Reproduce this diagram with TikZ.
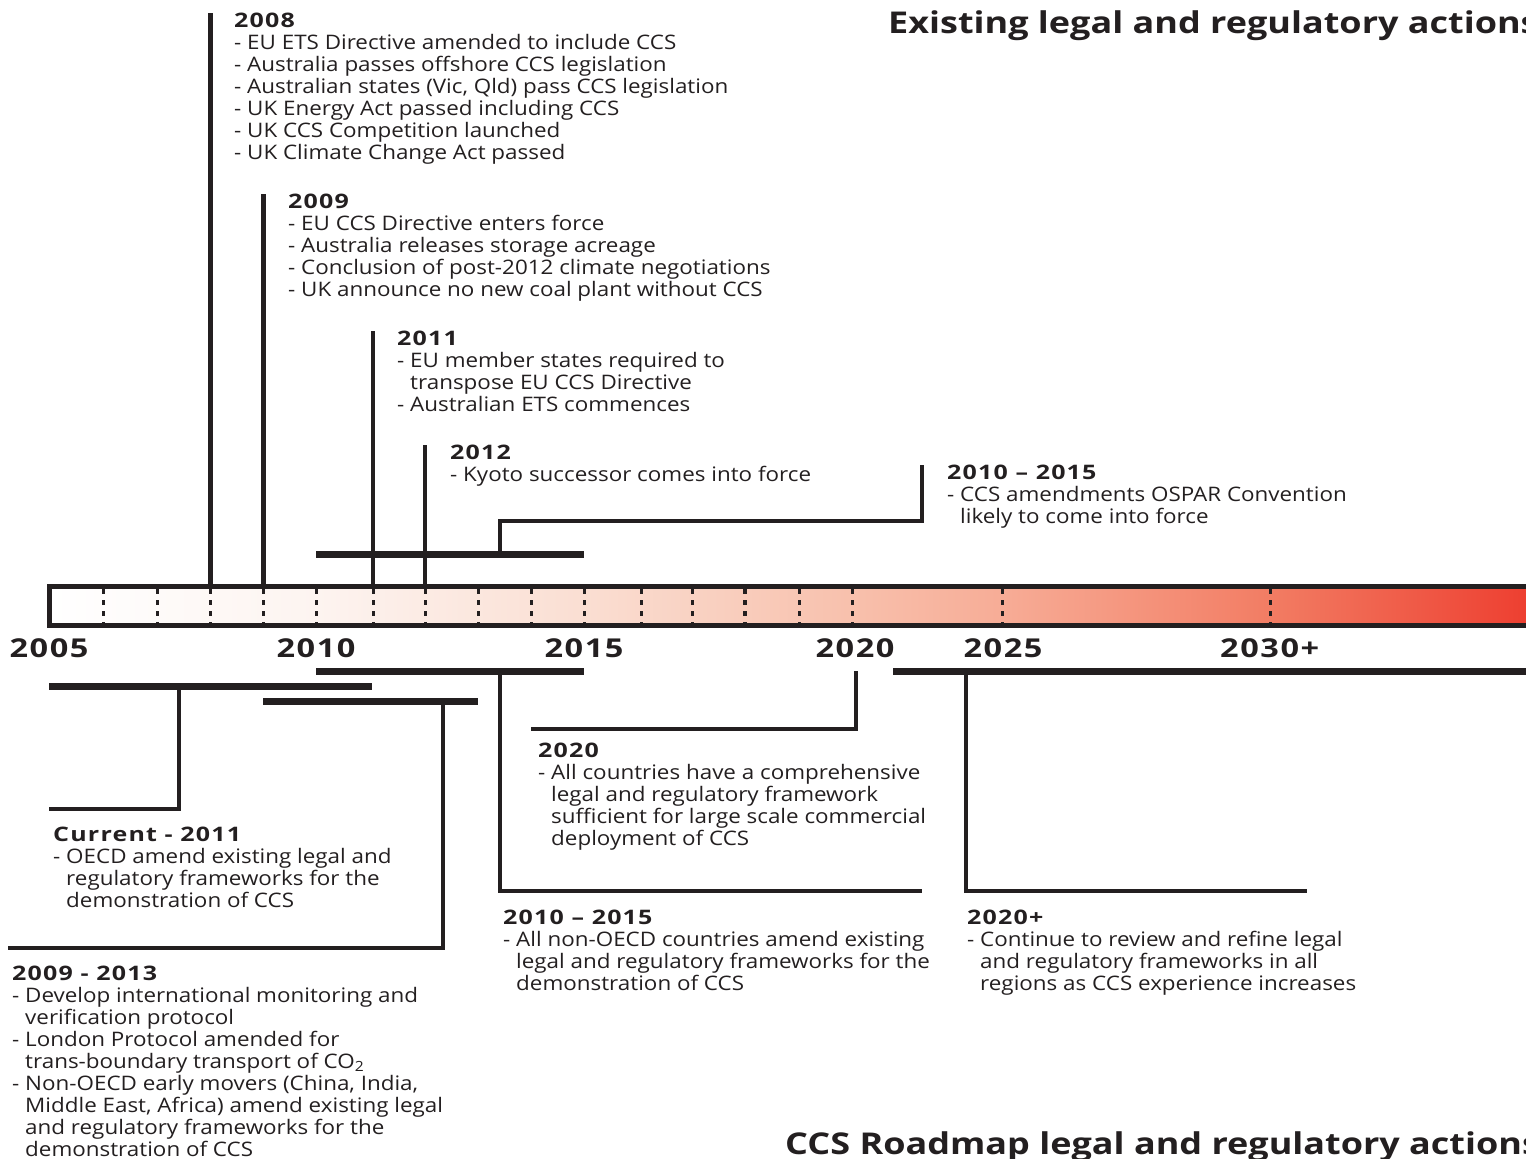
\documentclass[tikz,border=0pt]{standalone}
\usepackage{fontspec}
\setmainfont[FakeStretch=1.12]{Open Sans}
\newfontfamily\headfont[FakeStretch=1.25,LetterSpace=6]{Open Sans}
\newfontfamily\titlefont[FakeStretch=1.2]{Open Sans}
\usepackage{tikz}
\usetikzlibrary{calc,positioning}

\definecolor{ink}{HTML}{231F20}
\definecolor{shadeA}{RGB}{253,244,240}
\definecolor{shadeB}{RGB}{250,222,210}
\definecolor{shadeC}{RGB}{248,192,172}
\definecolor{shadeD}{RGB}{247,172,150}
\definecolor{shadeE}{RGB}{242,124,99}
\definecolor{shadeF}{RGB}{237,60,46}
\pgfdeclarehorizontalshading{barshade}{100bp}{color(0bp)=(white); color(25bp)=(white);
  color(34bp)=(shadeA); color(43bp)=(shadeB); color(52bp)=(shadeC);
  color(57bp)=(shadeD); color(66bp)=(shadeE); color(75bp)=(shadeF); color(100bp)=(shadeF)}

\newcommand{\hang}{\hphantom{- }}

\begin{document}
\begin{tikzpicture}[
      x=1pt, y=-1pt,
      evtext/.style={
          anchor=north west,
          inner sep=0pt,
          align=left,
          text=ink,
          font=\fontsize{20}{22}\selectfont
        },
      yearlab/.style={inner sep=0pt, text=ink, font=\fontsize{26}{28}\headfont\bfseries},
      heading/.style={anchor=west, inner sep=0pt, text=ink, font=\fontsize{30}{32}\titlefont\bfseries},
      evline/.style={draw=ink, line width=5pt},
      link/.style={draw=ink, line width=4pt},
      span/.style={draw=ink, line width=7pt},
      tick/.style={draw=ink, line width=3pt, dash pattern=on 5pt off 6pt}
    ]
    \useasboundingbox (0,0) rectangle (1526,1159);

    % Time bar
    \draw[draw=ink, line width=5pt, shading=barshade] (49,586) rectangle (1540,625);
    \foreach \tx in {103,157,210,263,316,373,425,478,531,584,641,692,799,852,1002,1270}
      \draw[tick] (\tx,589) -- (\tx,624);
    \draw[tick, line width=4pt] (745,589) -- (745,624);

    \node[yearlab] (lab2005) at (49,648)  {2005};
    \node[yearlab] (lab2010) at (316,648) {2010};
    \node[yearlab] (lab2015) at (584,648) {2015};
    \node[yearlab] (lab2020) at (855,648) {2020};
    \node[yearlab] (lab2025) at (1003,648) {2025};
    \node[yearlab, anchor=west] (lab2030) at (1220,648) {2030+};

    \node[heading] (ttop) at (888,26) {Existing legal and regulatory actions};
    \node[heading] (tbot) at (785,1147) {CCS Roadmap legal and regulatory actions};

    % Existing actions, above the bar
    \coordinate (y2008) at (210,586);
    \coordinate (y2009) at (263,586);
    \coordinate (y2011) at (373,586);
    \coordinate (y2012) at (425,586);

    \node[evtext] (n2008) at (234,13) {{\headfont\bfseries 2008}\\
      - EU ETS Directive amended to include CCS\\
      - Australia passes offshore CCS legislation\\
      - Australian states (Vic, Qld) pass CCS legislation\\
      - UK Energy Act passed including CCS\\
      - UK CCS Competition launched\\
      - UK Climate Change Act passed};
    \node[evtext] (n2009) at (288,194) {{\headfont\bfseries 2009}\\
      - EU CCS Directive enters force\\
      - Australia releases storage acreage\\
      - Conclusion of post-2012 climate negotiations\\
      - UK announce no new coal plant without CCS};
    \node[evtext] (n2011) at (397,331) {{\headfont\bfseries 2011}\\
      - EU member states required to\\
      \hang transpose EU CCS Directive\\
      - Australian ETS commences};
    \node[evtext] (n2012) at (450,445) {{\headfont\bfseries 2012}\\
      - Kyoto successor comes into force};
    \node[evtext] (n1015a) at (947,465) {{\headfont\bfseries 2010 – 2015}\\
      - CCS amendments OSPAR Convention\\
      \hang likely to come into force};

    \draw[evline] (y2008) -- (y2008 |- n2008.north);
    \draw[evline] (y2009) -- (y2009 |- n2009.north);
    \draw[evline, line width=4.5pt] (y2011) -- (y2011 |- n2011.north);
    \draw[evline, line width=4.5pt] (y2012) -- (y2012 |- n2012.north);

    \coordinate (spanAl) at (316,554);
    \coordinate (spanAr) at (584,554);
    \coordinate (midA) at (500,554);
    \coordinate (kneeA) at (922,521);
    \draw[span] (spanAl) -- (spanAr);
    \draw[link] (midA) |- (kneeA) -- (kneeA |- n1015a.north);

    % Roadmap actions, below the bar
    \node[evtext] (ncur) at (53,827) {{\headfont\bfseries Current - 2011}\\
      - OECD amend existing legal and\\
      \hang regulatory frameworks for the\\
      \hang demonstration of CCS};
    \node[evtext] (n0913) at (12,966) {{\headfont\bfseries 2009 - 2013}\\
      - Develop international monitoring and\\
      \hang verification protocol\\
      - London Protocol amended for\\
      \hang trans-boundary transport of CO\textsubscript{2}\\
      - Non-OECD early movers (China, India,\\
      \hang Middle East, Africa) amend existing legal\\
      \hang and regulatory frameworks for the\\
      \hang demonstration of CCS};
    \node[evtext] (n2020) at (538,743) {{\headfont\bfseries 2020}\\
      - All countries have a comprehensive\\
      \hang legal and regulatory framework\\
      \hang sufficient for large scale commercial\\
      \hang deployment of CCS};
    \node[evtext] (n1015b) at (503,910) {{\headfont\bfseries 2010 – 2015}\\
      - All non-OECD countries amend existing\\
      \hang legal and regulatory frameworks for the\\
      \hang demonstration of CCS};
    \node[evtext] (n2020p) at (967,910) {{\headfont\bfseries 2020+}\\
      - Continue to review and refine legal\\
      \hang and regulatory frameworks in all\\
      \hang regions as CCS experience increases};

    \coordinate (spanBl) at (316,671);
    \coordinate (spanBr) at (584,671);
    \coordinate (midB) at (500,671);
    \coordinate (endB) at (922,891);
    \draw[span] (spanBl) -- (spanBr);
    \draw[link] (midB) |- (endB);

    \coordinate (spanCl) at (49,686);
    \coordinate (spanCr) at (372,686);
    \coordinate (midC) at (179,686);
    \coordinate (endC) at (49,809);
    \draw[span] (spanCl) -- (spanCr);
    \draw[link] (midC) |- (endC);

    \coordinate (spanDl) at (263,701);
    \coordinate (spanDr) at (478,701);
    \coordinate (midD) at (443,701);
    \coordinate (endD) at (8,948);
    \draw[span] (spanDl) -- (spanDr);
    \draw[link] (midD) |- (endD);

    \coordinate (y2020) at (856,671);
    \coordinate (end2020) at (531,729);
    \draw[link] (y2020) |- (end2020);

    \coordinate (spanEl) at (893,671);
    \coordinate (spanEr) at (1540,671);
    \coordinate (midE) at (966,671);
    \coordinate (endE) at (1307,891);
    \draw[span] (spanEl) -- (spanEr);
    \draw[link] (midE) |- (endE);
  \end{tikzpicture}
\end{document}
